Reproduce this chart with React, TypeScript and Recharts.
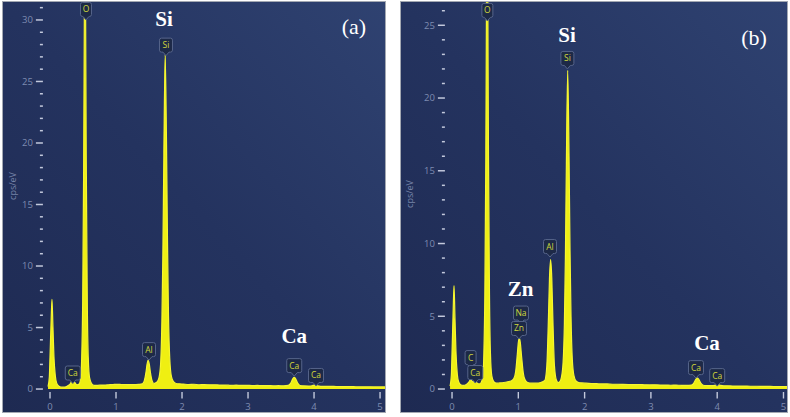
import { ComposedChart, Area, XAxis, YAxis, ReferenceDot } from 'recharts'

// energy channels (keV) shared by both spectra
const energy = [
  -0.03, -0.01, 0, 0.015, 0.03, 0.045, 0.06, 0.08, 0.1, 0.13,
  0.17, 0.21, 0.25, 0.28, 0.31, 0.345, 0.38, 0.41, 0.44,
  0.465, 0.48, 0.495, 0.51, 0.52, 0.53, 0.54, 0.55, 0.565, 0.58, 0.6, 0.63,
  0.67, 0.72, 0.78, 0.84, 0.89, 0.93, 0.96, 0.985, 1.0, 1.015, 1.03, 1.05, 1.075, 1.1, 1.14, 1.2, 1.27, 1.34,
  1.4, 1.43, 1.455, 1.47, 1.487, 1.505, 1.52, 1.545, 1.575, 1.6,
  1.625, 1.65, 1.675, 1.695, 1.71, 1.725, 1.745, 1.765, 1.78, 1.795, 1.815, 1.84, 1.87, 1.91, 1.96,
  2.02, 2.1, 2.18, 2.26, 2.34, 2.42, 2.5, 2.58, 2.66, 2.74, 2.82, 2.9, 2.98, 3.06, 3.14, 3.22, 3.3, 3.38, 3.46, 3.54,
  3.61, 3.65, 3.68, 3.7, 3.72, 3.75, 3.79,
  3.85, 3.92, 3.97, 4.01, 4.05, 4.1, 4.2, 4.3, 4.4, 4.5, 4.6, 4.7, 4.8, 4.9, 5.0, 5.075,
]

// spectrum (a), cps/eV
const cpsA = [
  0.2, 1.0, 2.6, 5.2, 7.3, 5.0, 2.6, 1.1, 0.5, 0.25,
  0.15, 0.15, 0.2, 0.3, 0.45, 0.8, 0.5, 0.35, 0.4,
  0.9, 2.5, 7, 18, 30, 40, 30, 18, 7, 2.5, 0.9, 0.45,
  0.3, 0.3, 0.32, 0.33, 0.35, 0.36, 0.37, 0.38, 0.38, 0.38, 0.38, 0.38, 0.37, 0.37, 0.37, 0.36, 0.36, 0.38,
  0.42, 0.7, 1.4, 2.0, 2.35, 2.0, 1.4, 0.7, 0.45, 0.5,
  0.6, 0.9, 2.0, 5.5, 11, 19, 27.2, 20, 12, 6, 2.4, 1.0, 0.6, 0.45, 0.42,
  0.4, 0.37, 0.39, 0.35, 0.36, 0.34, 0.35, 0.32, 0.33, 0.3, 0.32, 0.29, 0.3, 0.28, 0.29, 0.27, 0.28, 0.26, 0.27, 0.26,
  0.3, 0.5, 0.85, 0.95, 0.85, 0.5, 0.28,
  0.25, 0.24, 0.27, 0.32, 0.26, 0.22, 0.22, 0.21, 0.2, 0.2, 0.19, 0.18, 0.18, 0.17, 0.17, 0.17,
]

// spectrum (b), cps/eV
const cpsB = [
  0.2, 1.0, 2.5, 5.0, 7.1, 4.8, 2.5, 1.0, 0.5, 0.3,
  0.25, 0.3, 0.45, 0.65, 0.5, 0.55, 0.4, 0.35, 0.45,
  0.9, 2.4, 6.5, 16, 27, 36, 27, 16, 6.5, 2.4, 0.9, 0.5,
  0.4, 0.42, 0.45, 0.5, 0.55, 0.7, 1.2, 2.4, 3.2, 3.5, 3.2, 2.2, 1.1, 0.65, 0.45, 0.4, 0.4, 0.45,
  0.6, 1.6, 5.0, 7.6, 8.9, 7.6, 5.0, 1.6, 0.6, 0.45,
  0.5, 0.8, 1.8, 4.5, 9, 15.5, 21.9, 16, 9.5, 5, 2, 0.9, 0.55, 0.45, 0.42,
  0.4, 0.38, 0.37, 0.35, 0.35, 0.33, 0.33, 0.32, 0.31, 0.3, 0.31, 0.29, 0.28, 0.29, 0.27, 0.27, 0.26, 0.27, 0.25, 0.25,
  0.27, 0.42, 0.68, 0.75, 0.68, 0.42, 0.26,
  0.24, 0.23, 0.26, 0.3, 0.25, 0.22, 0.21, 0.2, 0.2, 0.19, 0.19, 0.18, 0.18, 0.17, 0.17, 0.17,
]

// element markers: energy and height of the pointer tip
const tagsA = [
  { el: 'O', e: 0.545, y: 30.0 },
  { el: 'Si', e: 1.757, y: 27.1 },
  { el: 'Al', e: 1.5, y: 2.35 },
  { el: 'Ca', e: 0.345, y: 0.45 },
  { el: 'Ca', e: 3.7, y: 1.05 },
  { el: 'Ca', e: 4.03, y: 0.25 },
]
const tagsB = [
  { el: 'O', e: 0.533, y: 25.3 },
  { el: 'Si', e: 1.74, y: 22.0 },
  { el: 'Al', e: 1.478, y: 9.07 },
  { el: 'Na', e: 1.04, y: 4.5 },
  { el: 'Zn', e: 1.01, y: 3.44 },
  { el: 'C', e: 0.28, y: 1.44 },
  { el: 'Ca', e: 0.351, y: 0.41 },
  { el: 'Ca', e: 3.68, y: 0.75 },
  { el: 'Ca', e: 4.0, y: 0.2 },
]

// big element captions
const bigA = [
  { t: 'Si', e: 1.727, y: 29.5 },
  { t: 'Ca', e: 3.7, y: 3.74 },
]
const bigB = [
  { t: 'Si', e: 1.735, y: 23.85 },
  { t: 'Zn', e: 1.033, y: 6.39 },
  { t: 'Ca', e: 3.846, y: 2.68 },
]

const xTicks = Array.from({ length: 52 }, (_, i) => Math.round((i - 1) * 10) / 10)

const rows = energy.map((e, i) => ({ e, a: cpsA[i], b: cpsB[i] }))

const tickColor = '#c3c9dc'
const labelColor = '#7e8bb0'
const sans = '"Open Sans", "Noto Sans", sans-serif'
const serif = '"Liberation Serif", "DejaVu Serif", serif'

function XTick({ x, y, payload }: any) {
  const v = payload.value
  const major = Math.abs(v - Math.round(v)) < 1e-6
  return (
    <g>
      <line x1={x} x2={x} y1={y + 0.5} y2={y + (major ? 7 : 4)} stroke={tickColor} strokeWidth={1.4} />
      {major && (
        <text x={x} y={y + 18} textAnchor="middle" fill={labelColor} fontSize={9.5} fontFamily={sans}>
          {Math.round(v)}
        </text>
      )}
    </g>
  )
}

function YTick({ x, y, payload }: any) {
  const v = payload.value
  const major = v % 5 === 0
  return (
    <g>
      <line x1={x - (major ? 7.5 : 3.5)} x2={x - 0.5} y1={y} y2={y} stroke={tickColor} strokeWidth={1.5} />
      {major && (
        <text x={x - 10.5} y={y + 3.3} textAnchor="end" fill={labelColor} fontSize={9.5} fontFamily={sans}>
          {v}
        </text>
      )}
    </g>
  )
}

function tagWidth(el: string) {
  if (el.length === 1) return 11
  if (el === 'Si' || el === 'Al') return 13
  return 15
}

function Tag({ cx, cy, el }: any) {
  const w = tagWidth(el)
  const h = 14
  const by = cy - 3.5
  const side = w / 2 - 5
  const d = `M${cx - w / 2 + 2},${by - h} h${w - 4} q2,0 2,2 v${h - 4} q0,2 -2,2 h${-side} l-3,3.5 l-3,-3.5 h${-side} q-2,0 -2,-2 v${-(h - 4)} q0,-2 2,-2 z`
  return (
    <g>
      <path d={d} fill="#1d2947" stroke="#56648a" strokeWidth={1} />
      <text x={cx} y={by - h / 2 + 3} textAnchor="middle" fill="#cfd63c" fontSize={8.5} fontFamily={sans}>
        {el}
      </text>
    </g>
  )
}

function Big({ cx, cy, t }: any) {
  return (
    <text x={cx} y={cy} textAnchor="middle" fill="#ffffff" fontSize={21} fontWeight="bold" fontFamily={serif}>
      {t}
    </text>
  )
}

interface PanelProps {
  left: number
  width: number
  dataKey: 'a' | 'b'
  yAxisWidth: number
  xMax: number
  yDomain: [number, number]
  yTicks: number[]
  tags: { el: string; e: number; y: number }[]
  big: { t: string; e: number; y: number }[]
}

function Panel({ left, width, dataKey, yAxisWidth, xMax, yDomain, yTicks, tags, big }: PanelProps) {
  return (
    <div
      style={{
        position: 'absolute',
        left,
        top: 2,
        width,
        height: 410,
        background: 'linear-gradient(to bottom left, #2f4271 0%, #24335f 50%, #1e2a52 100%)',
        outline: '1px solid #a3a8b2',
      }}
    >
      <ComposedChart width={width} height={410} data={rows} margin={{ top: 0, right: 0, bottom: 0, left: 0 }}>
        <XAxis
          dataKey="e"
          type="number"
          domain={[-0.1, xMax]}
          allowDataOverflow
          ticks={xTicks}
          interval={0}
          tick={<XTick />}
          tickSize={0}
          tickMargin={0}
          tickLine={false}
          axisLine={false}
          height={20.5}
        />
        <YAxis
          type="number"
          domain={yDomain}
          allowDataOverflow
          ticks={yTicks}
          interval={0}
          tick={<YTick />}
          tickSize={0}
          tickMargin={0}
          tickLine={false}
          axisLine={false}
          width={yAxisWidth}
        />
        <Area
          type="monotone"
          dataKey={dataKey}
          stroke="#f6f630"
          strokeWidth={1.2}
          fill="#efef12"
          fillOpacity={1}
          dot={false}
          activeDot={false}
          isAnimationActive={false}
        />
        {tags.map((t, i) => (
          <ReferenceDot
            key={'t' + i}
            x={t.e}
            y={t.y}
            r={0}
            ifOverflow="visible"
            shape={(p: any) => <Tag cx={p.cx} cy={p.cy} el={t.el} />}
          />
        ))}
        {big.map((b, i) => (
          <ReferenceDot
            key={'b' + i}
            x={b.e}
            y={b.y}
            r={0}
            ifOverflow="visible"
            shape={(p: any) => <Big cx={p.cx} cy={p.cy} t={b.t} />}
          />
        ))}
      </ComposedChart>
    </div>
  )
}

export default function App() {
  return (
    <div style={{ position: 'absolute', left: 0, top: 0, width: 790, height: 417, background: '#ffffff' }}>
      <Panel
        left={3}
        width={382}
        dataKey="a"
        yAxisWidth={40.4}
        xMax={5.075}
        yDomain={[-0.2, 31.46]}
        yTicks={Array.from({ length: 32 }, (_, i) => i)}
        tags={tagsA}
        big={bigA}
      />
      <Panel
        left={401}
        width={386}
        dataKey="b"
        yAxisWidth={44.4}
        xMax={5.053}
        yDomain={[-0.17, 26.6]}
        yTicks={Array.from({ length: 27 }, (_, i) => i)}
        tags={tagsB}
        big={bigB}
      />
      <svg width={790} height={417} style={{ position: 'absolute', left: 0, top: 0, pointerEvents: 'none' }}>
        <text x={354} y={33.5} textAnchor="middle" fill="#ffffff" fontSize={22} fontFamily={serif}>
          (a)
        </text>
        <text x={754} y={45} textAnchor="middle" fill="#ffffff" fontSize={22} fontFamily={serif}>
          (b)
        </text>
        <text x={15.5} y={186} transform="rotate(-90 15.5 186)" textAnchor="middle" fill="#7784a8" fontSize={9} fontFamily={sans}>
          cps/eV
        </text>
        <text x={413} y={194} transform="rotate(-90 413 194)" textAnchor="middle" fill="#7784a8" fontSize={9} fontFamily={sans}>
          cps/eV
        </text>
      </svg>
    </div>
  )
}
